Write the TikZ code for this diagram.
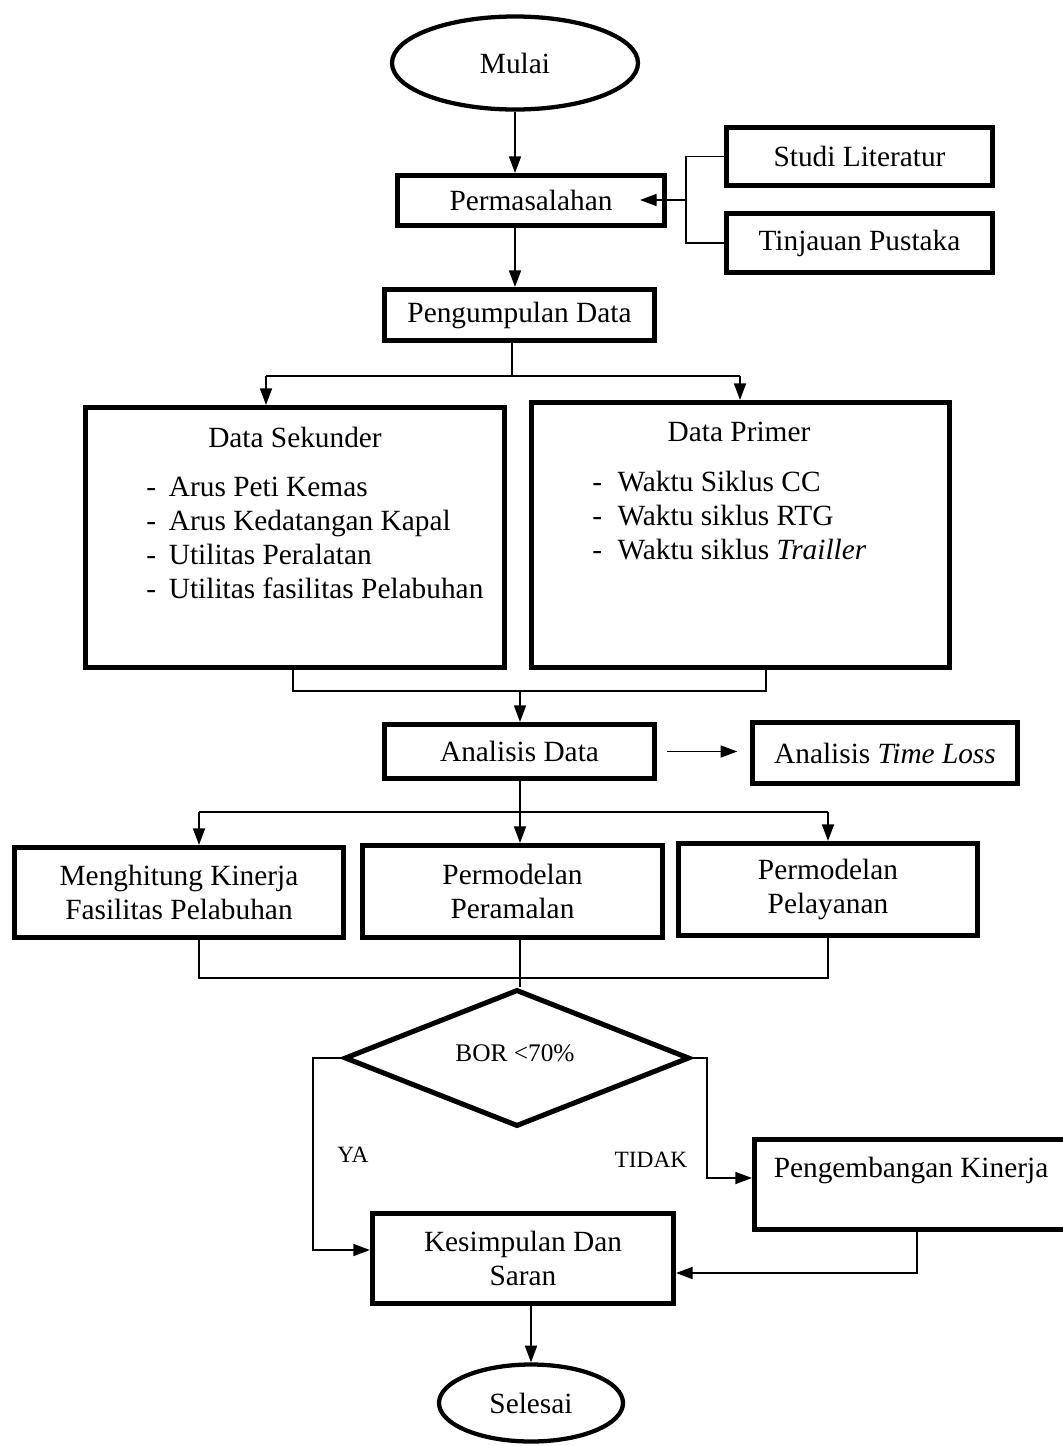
\documentclass[tikz,border=0pt]{standalone}
\usepackage{fontspec}
\setmainfont{Liberation Serif}
\usetikzlibrary{shapes.geometric,arrows.meta,calc}
\tikzset{
  box/.style={draw, line width=3.8pt, inner sep=0pt, align=center},
  term/.style={ellipse, draw, line width=3.2pt, inner sep=0pt},
  con/.style={line width=1.3pt},
  arr/.style={con, -{Triangle[length=12.5pt,width=9pt]}},
  lbl/.style={font=\fontsize{17.5}{20}\selectfont, inner sep=0pt},
  txt/.style={inner sep=0pt, align=left}
}
\begin{document}
\begin{tikzpicture}[x=0.75pt,y=-0.75pt, font=\fontsize{22}{25.5}\selectfont]
\useasboundingbox (0,0) rectangle (1063,1446);

% terminals
\node[term, minimum width=246*0.75pt, minimum height=93*0.75pt] (mulai) at (515,63) {Mulai};
\node[term, minimum width=184*0.75pt, minimum height=77*0.75pt] (selesai) at (531,1403) {Selesai};

% boxes
\node[box, minimum width=267*0.75pt, minimum height=50*0.75pt] (perm) at (531,200.5) {Permasalahan};
\node[box, minimum width=266*0.75pt, minimum height=58*0.75pt] (studi) at (859.5,156.5) {Studi Literatur};
\node[box, minimum width=266*0.75pt, minimum height=59*0.75pt] (tinj) at (859.5,243) {Tinjauan Pustaka};
\node[box, minimum width=270*0.75pt, minimum height=51*0.75pt] (peng) at (519.5,315) {Pengumpulan Data};
\node[box, minimum width=419*0.75pt, minimum height=260*0.75pt] (ds) at (295,537.5) {};
\node[box, minimum width=418*0.75pt, minimum height=265*0.75pt] (dp) at (740.5,535) {};
\node[box, minimum width=270*0.75pt, minimum height=54*0.75pt] (ad) at (519.5,751.5) {Analisis Data};
\node[box, minimum width=265*0.75pt, minimum height=61*0.75pt] (tl) at (885,753) {Analisis \textit{Time Loss}};
\node[box, minimum width=329*0.75pt, minimum height=90*0.75pt] (mk) at (179,892.5) {Menghitung Kinerja\\Fasilitas Pelabuhan};
\node[box, minimum width=300*0.75pt, minimum height=92*0.75pt] (pp) at (512.5,891.5) {Permodelan\\Peramalan};
\node[box, minimum width=299*0.75pt, minimum height=92*0.75pt] (pl) at (828,889.5) {Permodelan\\Pelayanan};
\node[diamond, draw, line width=3.8pt, inner sep=0pt, minimum width=345*0.75pt, minimum height=137*0.75pt] (bor) at (517,1058) {};
\node[box, minimum width=323*0.75pt, minimum height=90*0.75pt] (pk) at (916,1184.5) {};
\node[box, minimum width=301*0.75pt, minimum height=90*0.75pt] (ks) at (523,1258.5) {Kesimpulan Dan\\Saran};

% texts inside boxes
\node[txt] (dst) at (295,437) {Data Sekunder};
\node[txt, anchor=west] (dsl) at (146,538) {\makebox[17pt][l]{-}Arus Peti Kemas\\
\makebox[17pt][l]{-}Arus Kedatangan Kapal\\
\makebox[17pt][l]{-}Utilitas Peralatan\\
\makebox[17pt][l]{-}Utilitas fasilitas Pelabuhan};
\node[txt] (dpt) at (739,432) {Data Primer};
\node[txt, anchor=west] (dpl) at (592,515.5) {\makebox[19pt][l]{-}Waktu Siklus CC\\
\makebox[19pt][l]{-}Waktu siklus RTG\\
\makebox[19pt][l]{-}Waktu siklus \textit{Trailler}};
\node[txt] (pkt) at (911,1170) {Pengembangan Kinerja};
\node[lbl, font=\fontsize{19}{22}\selectfont] (bort) at (515,1053) {BOR <70\%};
\node[lbl] (ya) at (353,1155) {YA};
\node[lbl] (tidak) at (651,1160) {TIDAK};

% coordinates
\coordinate (br) at (686,200);
\coordinate (permin) at (640,200);
\coordinate (j1) at (512,376);
\coordinate (j1L) at (266,376);
\coordinate (j1R) at (740,376);
\coordinate (j2L) at (293,691);
\coordinate (j2R) at (766,691);
\coordinate (j2) at (520,691);
\coordinate (j3) at (520,812);
\coordinate (j3L) at (199,812);
\coordinate (j3R) at (828,812);
\coordinate (j4L) at (199,978);
\coordinate (j4R) at (828,978);
\coordinate (yaC) at (313,1250);
\coordinate (tdC) at (707,1178);
\coordinate (pkC) at (917,1273);

% connectors
\draw[arr] (mulai.south) -- (mulai.south |- perm.north);
\draw[con] (studi.west) -- (studi.west -| br) -- (tinj.west -| br) -- (tinj.west);
\draw[arr] (br) -- (permin);
\draw[arr] (perm.south -| mulai) -- (peng.north -| mulai);
\draw[con] (peng.south -| j1) -- (j1);
\draw[con] (j1L) -- (j1R);
\draw[arr] (j1L) -- (j1L |- ds.north);
\draw[arr] (j1R) -- (j1R |- dp.north);
\draw[con] (ds.south -| j2L) -- (j2L) -- (j2R) -- (dp.south -| j2R);
\draw[arr] (j2) -- (ad.north -| j2);
\draw[arr, shorten <=7.5pt, shorten >=9.5pt] (ad.east) -- (ad.east -| tl.west);
\draw[con] (ad.south -| j3) -- (j3);
\draw[con] (j3L) -- (j3R);
\draw[arr] (j3L) -- (j3L |- mk.north);
\draw[arr] (j3) -- (j3 |- pp.north);
\draw[arr] (j3R) -- (j3R |- pl.north);
\draw[con] (mk.south -| j4L) -- (j4L) -- (j4R) -- (pl.south -| j4R);
\draw[con] (pp.south -| j3) -- (bor.north -| j3);
\draw[arr] (bor.west) -- (bor.west -| yaC) -- (yaC) -- (yaC -| ks.west);
\draw[arr] (bor.east) -- (bor.east -| tdC) -- (tdC) -- (tdC -| pk.west);
\draw[arr] (pk.south -| pkC) -- (pkC) -- (pkC -| ks.east);
\draw[arr] (ks.south -| selesai) -- (selesai.north);
\end{tikzpicture}
\end{document}
